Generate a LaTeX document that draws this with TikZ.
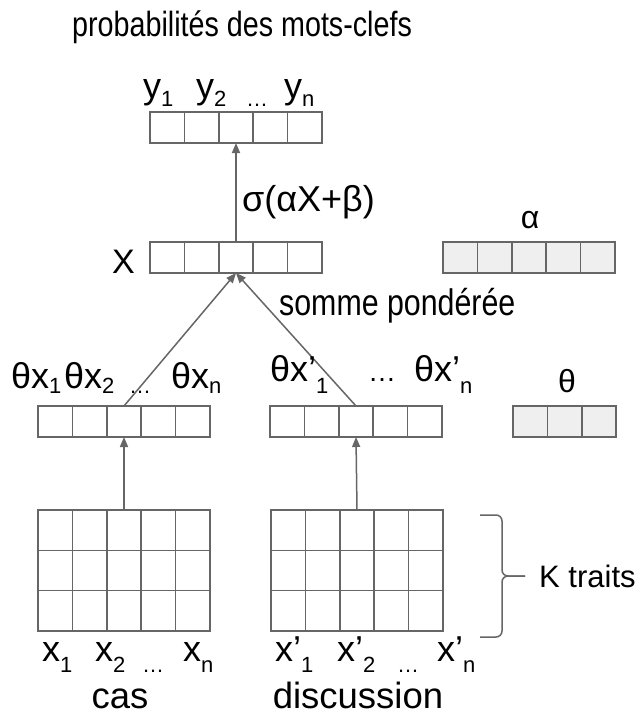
\documentclass[tikz,border=0pt]{standalone}
\usepackage{fontspec}
\setmainfont{Liberation Sans}
\newfontfamily\narrowfont{Liberation Sans}[FakeStretch=0.82]
\usetikzlibrary{arrows.meta,positioning}
\definecolor{linegray}{HTML}{666666}
\definecolor{paramgray}{HTML}{EFEFEF}
% subscript, lowered by the optional amount
\newcommand{\lo}[2][5pt]{\raisebox{-#1}{\fontsize{22}{22}\selectfont #2}}
\tikzset{
  cell/.style={draw=linegray, line width=1.5pt, minimum width=34.4pt,
    minimum height=31pt, inner sep=0pt, outer sep=0pt},
  param/.style={cell, fill=paramgray},
  gcell/.style={cell, minimum height=40.3pt},
  lbl/.style={inner sep=0pt, anchor=base west, font=\fontsize{36}{42}\selectfont},
  flow/.style={draw=linegray, line width=1.5pt, -{Triangle[length=10pt,width=8pt]}},
  brc/.style={draw=linegray, line width=1.5pt, rounded corners=6pt},
}
\begin{document}
\begin{tikzpicture}[x=1pt, y=-1pt]
\useasboundingbox (0,0) rectangle (635,717);

% vectors
\foreach \i in {1,...,5} {
  \node[cell, anchor=north west] (y\i) at ({150+34.4*(\i-1)},112) {};
  \node[cell, anchor=north west] (X\i) at ({150+34.4*(\i-1)},242) {};
  \node[cell, anchor=north west] (tL\i) at ({38+34.4*(\i-1)},406) {};
  \node[cell, anchor=north west] (tR\i) at ({270+34.4*(\i-1)},406) {};
  \node[param, anchor=north west] (a\i) at ({443+34.4*(\i-1)},242) {};
}
\foreach \i in {1,2,3}
  \node[param, anchor=north west] (p\i) at ({513+34.4*(\i-1)},406) {};

% feature grids
\foreach \r in {1,2,3}
  \foreach \c in {1,...,5} {
    \node[gcell, anchor=north west] (gL\r\c) at ({38+34.4*(\c-1)},{510+40.3*(\r-1)}) {};
    \node[gcell, anchor=north west] (gR\r\c) at ({271+34.4*(\c-1)},{510+40.3*(\r-1)}) {};
  }

% connectors
\draw[flow] (X3.north) -- (y3.south);
\draw[flow] (tL3.north) -- (X3.south);
\draw[flow] (tR3.north) -- (X3.south);
\draw[flow] (gL13.north) -- (tL3.south);
\draw[flow] (gR13.north) -- (tR3.south);

% brace
\coordinate (btop) at (480,515);
\coordinate (bbot) at (480,637);
\coordinate (btip) at (525,576);
\draw[brc] (btop) -- ++(22,0) -- ++(0,61) -- (btip);
\draw[brc] (bbot) -- ++(22,0) -- ++(0,-61) -- (btip);
\node[lbl, font=\fontsize{31}{36}\selectfont, anchor=west, right=14pt of btip] (traits) {K traits};

% labels
\node[lbl, font=\narrowfont\fontsize{35}{40}\selectfont] (title) at (72,37) {probabilités des mots-clefs};
\node[lbl] (ly1) at (143,98) {y\lo[8pt]{1}};
\node[lbl] (ly2) at (196,98) {y\lo[8pt]{2}};
\node[lbl] (lyd) at (246,98) {\lo[8pt]{…}};
\node[lbl] (lyn) at (284,98) {y\lo[8pt]{n}};
\node[lbl] (sig) at (242,211) {σ(αX+β)};
\node[lbl, font=\fontsize{34}{40}\selectfont] (lX) at (112,273) {X};
\node[lbl, font=\fontsize{32}{36}\selectfont, anchor=base] (lalpha) at (530,228) {α};
\node[lbl, font=\narrowfont\fontsize{37}{42}\selectfont] (somme) at (279,315) {somme pondérée};
\node[lbl] (tx1) at (11,388) {θx\lo{1}};
\node[lbl] (tx2) at (64,388) {θx\lo{2}};
\node[lbl] (txd) at (129,388) {\lo{…}};
\node[lbl] (txn) at (171,388) {θx\lo{n}};
\node[lbl] (tp1) at (270,381) {θx’\lo[12pt]{1}};
\node[lbl, font=\fontsize{28}{32}\selectfont] (tpd) at (368,381) {…};
\node[lbl] (tpn) at (414,381) {θx’\lo[12pt]{n}};
\node[lbl, font=\fontsize{32}{36}\selectfont, anchor=base] (ltheta) at (567,392) {θ};
\node[lbl] (x1) at (42,661) {x\lo[11pt]{1}};
\node[lbl] (x2) at (95,661) {x\lo[11pt]{2}};
\node[lbl] (xd) at (142,661) {\lo[11pt]{…}};
\node[lbl] (xn) at (183,661) {x\lo[11pt]{n}};
\node[lbl] (xp1) at (275,661) {x’\lo[11pt]{1}};
\node[lbl] (xp2) at (337,661) {x’\lo[11pt]{2}};
\node[lbl] (xpd) at (397,661) {\lo[11pt]{…}};
\node[lbl] (xpn) at (437,661) {x’\lo[11pt]{n}};
\node[lbl, font=\fontsize{36.5}{42}\selectfont, anchor=base] (cas) at (120,708) {cas};
\node[lbl, font=\fontsize{36.5}{42}\selectfont, anchor=base] (disc) at (358,708) {discussion};
\end{tikzpicture}
\end{document}
